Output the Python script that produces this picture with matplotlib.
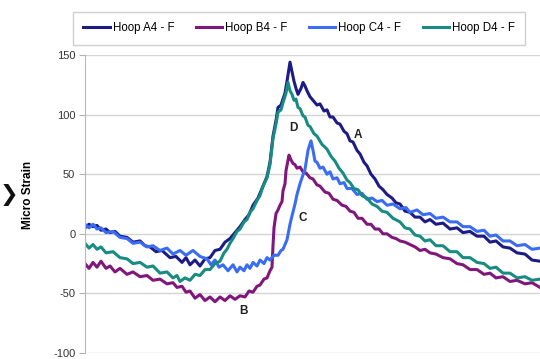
import matplotlib

matplotlib.use("Agg")
import matplotlib.pyplot as plt

plt.rcParams["font.family"] = ["Liberation Sans", "DejaVu Sans"]
plt.rcParams["axes.unicode_minus"] = False

# sample position (no x scale shown on the chart) and micro strain values
a_x = [85, 89, 93, 97, 101, 106, 110, 115, 120, 127, 133, 140, 145, 150, 156, 162, 170, 176, 182, 186,
       190, 195, 200, 205, 210, 215, 220, 225, 230, 235, 240, 245, 249, 253, 258, 263, 267, 270, 273, 276,
       278, 281, 283, 285, 287, 290, 292, 294, 296, 298, 301, 303, 305, 307, 310, 313, 317, 320, 324, 327,
       330, 333, 337, 340, 344, 347, 350, 353, 357, 360, 364, 367, 371, 375, 379, 383, 387, 392, 396, 400,
       405, 410, 415, 420, 425, 430, 436, 443, 450, 457, 463, 470, 477, 484, 490, 496, 503, 510, 517, 525,
       532, 540]
a_y = [5, 8, 6, 7, 3, 4, 1, 2, -2, -3, -7, -6, -10, -11, -15, -14, -20, -19, -24, -20,
       -26, -22, -27, -21, -20, -14, -13, -7, -4, 1, 6, 12, 16, 24, 30, 40, 48, 60, 82, 95,
       106, 108, 113, 118, 128, 144, 136, 128, 122, 117, 122, 127, 124, 120, 115, 112, 108, 109, 103, 104,
       98, 98, 93, 92, 86, 84, 78, 77, 70, 67, 60, 57, 50, 46, 40, 37, 33, 30, 26, 25,
       19, 18, 14, 14, 10, 12, 8, 9, 4, 5, 1, 2, -2, -2, -7, -6, -11, -12, -16, -17,
       -22, -23]

b_x = [85, 89, 93, 97, 101, 106, 110, 115, 120, 127, 133, 140, 147, 153, 160, 167, 173, 177, 182, 186,
       190, 195, 200, 205, 210, 215, 220, 225, 230, 235, 240, 245, 249, 253, 257, 260, 264, 267, 270, 272,
       273, 274, 276, 278, 280, 282, 283, 285, 286, 289, 291, 293, 295, 297, 300, 303, 306, 310, 313, 317,
       320, 325, 329, 333, 337, 342, 346, 350, 354, 358, 362, 367, 371, 375, 379, 383, 387, 392, 396, 400,
       405, 410, 415, 420, 425, 430, 436, 443, 450, 457, 463, 470, 477, 484, 490, 496, 503, 510, 517, 525,
       532, 540]
b_y = [-25, -29, -24, -28, -23, -29, -27, -32, -29, -34, -32, -36, -35, -39, -38, -42, -41, -45, -44, -49,
       -48, -54, -51, -56, -53, -57, -53, -56, -52, -55, -52, -53, -48, -49, -44, -43, -38, -37, -31, -28,
       -10, 5, 17, 20, 24, 27, 36, 42, 53, 66, 62, 59, 58, 55, 56, 52, 51, 47, 46, 41,
       40, 35, 34, 29, 28, 24, 23, 19, 18, 13, 13, 8, 8, 4, 4, 0, 0, -3, -4, -6,
       -7, -9, -11, -14, -13, -16, -17, -20, -21, -25, -26, -30, -30, -34, -33, -37, -36, -40, -39, -42,
       -41, -45]

c_x = [85, 89, 93, 97, 101, 106, 113, 120, 127, 133, 140, 147, 153, 160, 167, 173, 180, 186, 193, 200,
       207, 211, 215, 219, 223, 228, 233, 237, 240, 244, 247, 250, 253, 257, 260, 264, 267, 270, 274, 278,
       281, 283, 285, 287, 290, 292, 295, 297, 300, 302, 305, 308, 311, 313, 315, 317, 320, 323, 327, 330,
       333, 337, 340, 344, 347, 352, 357, 362, 367, 372, 377, 382, 387, 393, 400, 406, 410, 417, 423, 430,
       436, 443, 450, 457, 463, 470, 477, 484, 490, 496, 503, 510, 517, 525, 532, 540]
c_y = [8, 5, 8, 4, 5, 1, 2, -3, -4, -8, -7, -11, -10, -14, -12, -17, -14, -18, -14, -19,
       -21, -26, -22, -28, -26, -31, -26, -32, -28, -31, -26, -29, -24, -27, -22, -25, -20, -22, -18, -18,
       -14, -13, -9, -5, 8, 15, 25, 33, 42, 47, 54, 70, 78, 70, 61, 60, 55, 56, 50, 52,
       46, 47, 42, 43, 38, 38, 33, 34, 29, 30, 27, 28, 24, 25, 21, 22, 18, 20, 16, 17,
       13, 14, 10, 10, 6, 6, 2, 3, -2, -1, -6, -6, -10, -9, -13, -12]

d_x = [85, 89, 93, 97, 101, 106, 113, 120, 127, 133, 140, 147, 153, 160, 167, 173, 177, 180, 185, 190,
       195, 200, 205, 210, 215, 220, 224, 227, 230, 233, 237, 240, 244, 247, 250, 253, 257, 260, 263, 267,
       270, 273, 276, 278, 281, 283, 286, 288, 290, 292, 294, 296, 298, 300, 303, 305, 308, 310, 314, 317,
       322, 327, 331, 335, 339, 343, 347, 350, 354, 358, 362, 367, 372, 377, 382, 387, 393, 400, 405, 410,
       415, 420, 425, 430, 436, 443, 450, 457, 463, 470, 477, 484, 490, 496, 503, 510, 517, 525, 532, 540]
d_y = [-8, -12, -9, -13, -11, -16, -15, -20, -21, -25, -24, -28, -27, -33, -32, -37, -35, -40, -37, -39,
       -34, -35, -30, -30, -25, -23, -16, -13, -8, -4, 2, 4, 10, 12, 18, 21, 28, 32, 40, 47,
       58, 80, 92, 102, 104, 110, 118, 127, 120, 117, 112, 113, 106, 105, 99, 98, 91, 90, 84, 82,
       75, 71, 65, 61, 55, 51, 45, 43, 38, 37, 32, 30, 25, 23, 19, 18, 13, 10, 5, 4,
       -1, -2, -6, -5, -10, -10, -15, -15, -20, -20, -24, -25, -29, -28, -33, -33, -37, -36, -39, -38]

series_names = ["Hoop A4 - F", "Hoop B4 - F", "Hoop C4 - F", "Hoop D4 - F"]
series_colors = ["#1c1c84", "#80187c", "#3a6cf4", "#188c80"]

# curve labels: (text, x, y)
curve_labels = [("A", 358, 83), ("B", 243, -65), ("C", 303, 13), ("D", 293, 89)]

y_ticks = [-100, -50, 0, 50, 100, 150]

fig = plt.figure(figsize=(5.4, 3.59), dpi=100)
ax = fig.add_axes([85 / 540, 6 / 359, 1 - 85 / 540, 298 / 359])

lines = []
for xs, ys, name, color in zip(
    [a_x, b_x, c_x, d_x], [a_y, b_y, c_y, d_y], series_names, series_colors
):
    (ln,) = ax.plot(xs, ys, color=color, linewidth=2.2, label=name, solid_joinstyle="round")
    lines.append(ln)

for txt, lx, ly in curve_labels:
    ax.text(lx, ly, txt, fontsize=8.5, fontweight="bold", color="#222222",
            ha="center", va="center")

ax.set_xlim(85, 540)
ax.set_ylim(-100, 150)
ax.set_yticks(y_ticks)
ax.set_xticks([])
ax.tick_params(axis="y", labelsize=8, labelcolor="#333333", color="#b0b0b0",
               length=4, width=0.8, pad=3)
ax.yaxis.grid(True, color="#d4d4d4", linewidth=1.0)
ax.set_axisbelow(True)
for side in ["top", "right", "bottom"]:
    ax.spines[side].set_visible(False)
ax.spines["left"].set_color("#b8b8b8")

ax.set_ylabel("Micro Strain", fontsize=8.5, fontweight="bold")
ax.yaxis.set_label_coords(-0.113, 0.53)

fig.legend(
    handles=lines,
    loc="upper left",
    bbox_to_anchor=(73 / 540, 1 - 12 / 359),
    ncol=4,
    fontsize=8.3,
    frameon=True,
    fancybox=False,
    edgecolor="#c4c4c4",
    handlelength=2.3,
    handletextpad=0.25,
    columnspacing=1.85,
    borderaxespad=0.0,
    borderpad=0.9,
)

# chevron at the far left edge
fig.text(0.016, 0.457, "\u276f", fontsize=16, color="#111111", ha="center", va="center",
         family=["DejaVu Sans"])

fig.savefig("out.png", dpi=100)
